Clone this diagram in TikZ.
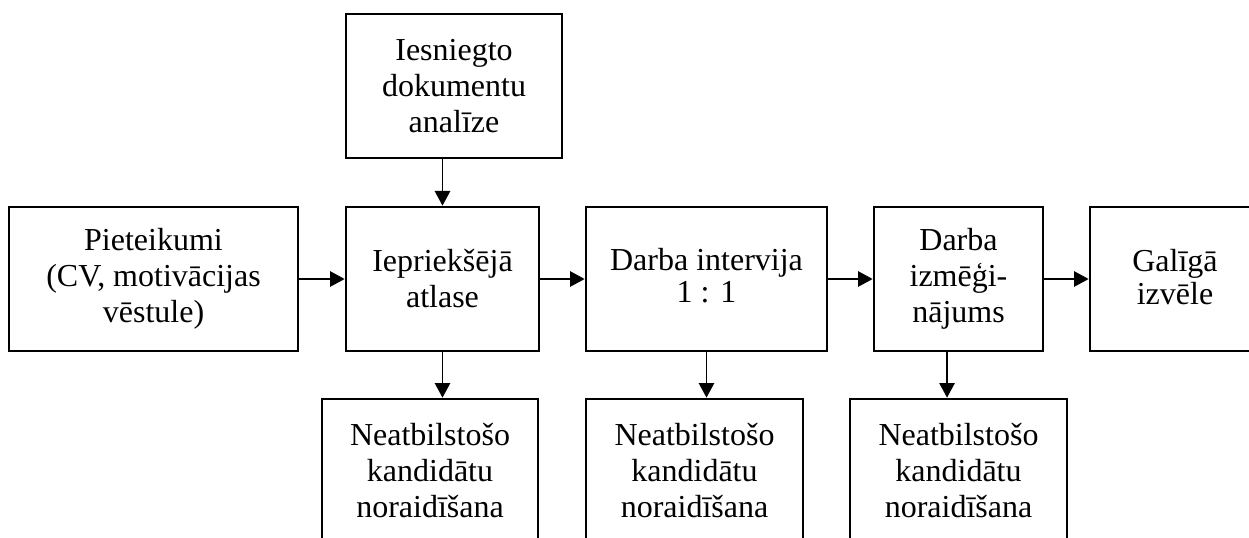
\documentclass[tikz,border=0pt]{standalone}
\usepackage{fontspec}
\setmainfont{Liberation Serif}
\usetikzlibrary{arrows.meta}
\tikzset{
  stage/.style={draw, line width=2pt, rectangle, align=center, inner sep=0pt,
    minimum height=108pt, font=\fontsize{24}{27}\selectfont},
  flow/.style={line width=1.4pt, -{Triangle[length=11pt,width=11.5pt]}}
}
\begin{document}
\begin{tikzpicture}[x=0.75pt,y=-0.75pt]
  \useasboundingbox (0,0) rectangle (1249,538);
  \clip (0,0) rectangle (1249,538);

  % main row of stages
  \node[stage, minimum width=162pt]    (docs)  at (454,86)    {Iesniegto\\dokumentu\\analīze};
  \node[stage, minimum width=216.75pt] (apps)  at (153.5,279) {Pieteikumi\\(CV, motivācijas\\vēstule)};
  \node[stage, minimum width=144.75pt] (pre)   at (442.5,279) {Iepriekšējā\\atlase};
  \node[stage, minimum width=180.75pt] (intv)  at (706.5,279) {\raisebox{6pt}{\shortstack{Darba intervija\\1 : 1}}};
  \node[stage, minimum width=126.75pt] (trial) at (958.5,279) {Darba\\izmēģi-\\nājums};
  \node[stage, minimum width=127.5pt]  (final) at (1175,279)  {\raisebox{3pt}{\shortstack{Galīgā\\izvēle}}};

  % rejection boxes
  \node[stage, minimum width=162pt]    (rej1) at (430,471)   {Neatbilstošo\\kandidātu\\noraidīšana};
  \node[stage, minimum width=162.75pt] (rej2) at (694.5,471) {Neatbilstošo\\kandidātu\\noraidīšana};
  \node[stage, minimum width=162.75pt] (rej3) at (958.5,471) {Neatbilstošo\\kandidātu\\noraidīšana};

  % horizontal flow
  \draw[flow] (apps) -- (pre);
  \draw[flow] (pre) -- (intv);
  \draw[flow] (intv) -- (trial);
  \draw[flow] (trial) -- (final);

  % vertical flow
  \draw[flow] (pre.north |- docs.south) -- (pre.north);
  \draw[flow] (pre.south) -- (pre.south |- rej1.north);
  \draw[flow] (intv.south) -- (intv.south |- rej2.north);
  \coordinate (trialout) at ([xshift=-8.6pt]trial.south);
  \draw[flow] (trialout) -- (trialout |- rej3.north);
\end{tikzpicture}
\end{document}
